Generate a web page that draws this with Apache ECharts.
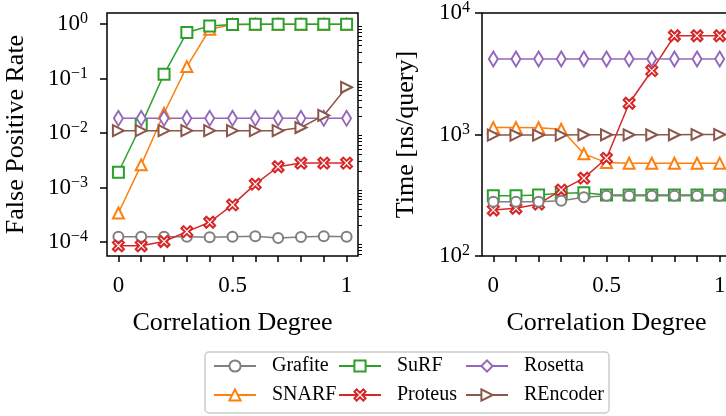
<!DOCTYPE html>
<html>
<head>
<meta charset="utf-8">
<script src="https://cdn.jsdelivr.net/npm/echarts@6/dist/echarts.min.js"></script>
<style>
html, body { margin: 0; padding: 0; background: #fff; }
#chart { width: 726px; height: 416px; }
</style>
</head>
<body>
<div id="chart"></div>
<script>
// correlation degree
const xs = [0, 0.1, 0.2, 0.3, 0.4, 0.5, 0.6, 0.7, 0.8, 0.9, 1.0]

// false positive rate (left)
const fprGrafite = [1.25e-4, 1.25e-4, 1.25e-4, 1.25e-4, 1.22e-4, 1.25e-4, 1.27e-4, 1.18e-4, 1.24e-4, 1.28e-4, 1.25e-4]
const fprSnarf = [3.4e-4, 2.6e-3, 0.023, 0.165, 0.8, 0.98, 0.99, 0.99, 0.99, 0.99, 0.99]
const fprSurf = [1.9e-3, 0.014, 0.12, 0.7, 0.92, 0.98, 0.99, 0.99, 0.99, 0.99, 0.99]
const fprProteus = [8.5e-5, 8.5e-5, 1.02e-4, 1.55e-4, 2.3e-4, 4.8e-4, 1.15e-3, 2.4e-3, 2.8e-3, 2.8e-3, 2.8e-3]
const fprRosetta = [0.0186, 0.0186, 0.0186, 0.0186, 0.0186, 0.0186, 0.0186, 0.0186, 0.0186, 0.0186, 0.0186]
const fprREncoder = [0.011, 0.011, 0.011, 0.011, 0.011, 0.011, 0.011, 0.011, 0.0126, 0.021, 0.069]

// time ns/query (right)
const timeGrafite = [280, 280, 280, 285, 304, 313, 313, 313, 313, 313, 313]
const timeSnarf = [1140, 1140, 1135, 1105, 693, 587, 580, 580, 580, 580, 580]
const timeSurf = [313, 313, 318, 328, 331, 318, 318, 318, 318, 318, 318]
const timeProteus = [239, 247, 268, 349, 437, 637, 1808, 3350, 6500, 6500, 6500]
const timeRosetta = [4180, 4180, 4180, 4180, 4180, 4180, 4180, 4180, 4180, 4180, 4180]
const timeREncoder = [990, 990, 990, 990, 995, 995, 995, 995, 995, 1000, 1000]

// ticks
const xTicks = [0, 0.1, 0.2, 0.3, 0.4, 0.5, 0.6, 0.7, 0.8, 0.9, 1.0]
const xLabels = [0, 0.5, 1]
const fprMajor = [1e-4, 1e-3, 1e-2, 1e-1, 1]
const timeMajor = [100, 1000, 10000]

// legend columns (matplotlib ncol=3 order)
const legendCols = [['Grafite', 'SNARF'], ['SuRF', 'Proteus'], ['Rosetta', 'REncoder']]

const FONT = 'Liberation Serif'
const fprMin = 5.53e-5, fprMax = 1.59

const minorTicks = (lo, hi) => {
    const out = []
    for (let d = Math.floor(Math.log10(lo)); d <= Math.ceil(Math.log10(hi)); d++) {
        for (let k = 2; k <= 9; k++) {
            const v = k * Math.pow(10, d)
            if (v >= lo && v <= hi) out.push(v)
        }
    }
    return out
}

const supLabel = (v) => {
    const e = Math.round(Math.log10(v))
    return '{b|10}{s|' + (e < 0 ? '\u2212' + (-e) : e) + '}'
}

const labelRich = {
    b: { fontFamily: FONT, fontSize: 23, lineHeight: 26, color: '#000' },
    s: { fontFamily: FONT, fontSize: 16, lineHeight: 16, verticalAlign: 'top', color: '#000' },
}

const xAxisCfg = (gi) => ({
    type: 'value',
    gridIndex: gi,
    min: -0.05,
    max: 1.05,
    axisLine: { show: false, onZero: false },
    splitLine: { show: false },
    axisTick: { customValues: xTicks, length: 6, lineStyle: { color: '#000', width: 1.5 } },
    axisLabel: {
        customValues: xLabels,
        margin: 18,
        fontFamily: FONT,
        fontSize: 23,
        color: '#000',
    },
    name: 'Correlation Degree',
    nameLocation: 'middle',
    nameGap: 54,
    nameTextStyle: { fontFamily: FONT, fontSize: 26, color: '#000' },
})

const yMajorCfg = (gi, min, max, ticks, name, margin, nameGap) => ({
    type: 'log',
    gridIndex: gi,
    min: min,
    max: max,
    axisLine: { show: false, onZero: false },
    splitLine: { show: false },
    axisTick: { customValues: ticks, length: 7, lineStyle: { color: '#000', width: 1.5 } },
    axisLabel: {
        customValues: ticks,
        margin: margin,
        formatter: supLabel,
        rich: labelRich,
    },
    name: name,
    nameLocation: 'middle',
    nameGap: nameGap,
    nameTextStyle: { fontFamily: FONT, fontSize: 26, color: '#000' },
})

const yMinorCfg = (gi, min, max) => ({
    type: 'log',
    gridIndex: gi,
    min: min,
    max: max,
    axisLine: { show: false, onZero: false },
    splitLine: { show: false },
    axisLabel: { show: false },
    axisTick: { customValues: minorTicks(min, max), length: 4, lineStyle: { color: '#000', width: 1 } },
})

const X_PATH = 'path://M2,0 L5,3 L8,0 L10,2 L7,5 L10,8 L8,10 L5,7 L2,10 L0,8 L3,5 L0,2 Z'

const styles = {
    Grafite: { color: '#7f7f7f', symbol: 'circle', size: 10, rotate: 0 },
    SNARF: { color: '#ff7f0e', symbol: 'triangle', size: 11, rotate: 0 },
    SuRF: { color: '#2ca02c', symbol: 'rect', size: 11, rotate: 0 },
    Proteus: { color: '#d62728', symbol: X_PATH, size: 11, rotate: 0 },
    Rosetta: { color: '#9467bd', symbol: 'diamond', size: [9, 15], rotate: 0 },
    REncoder: { color: '#8c564b', symbol: 'triangle', size: 11, rotate: -90 },
}

const mkSeries = (name, vals, gi, z) => {
    const s = styles[name]
    return {
        name: name,
        type: 'line',
        xAxisIndex: gi,
        yAxisIndex: gi * 2,
        z: z || 2,
        data: xs.map((x, i) => [x, vals[i]]),
        symbol: s.symbol,
        symbolSize: s.size,
        symbolRotate: s.rotate,
        showAllSymbol: true,
        lineStyle: { color: s.color, width: 1.5 },
        itemStyle: { color: '#fff', borderColor: s.color, borderWidth: 2 },
        emphasis: { disabled: true },
        animation: false,
    }
}

const legendLeft = [213, 338, 465]
const mkLegend = (names, i) => ({
    left: legendLeft[i],
    top: 356,
    orient: 'vertical',
    padding: 0,
    itemGap: 9,
    itemWidth: 42,
    itemHeight: 14,
    data: names,
    formatter: (n) => '{t|' + n + '}',
    textStyle: {
        fontFamily: FONT,
        fontSize: 20,
        color: '#000',
        rich: { t: { fontFamily: FONT, fontSize: 20, lineHeight: 20, color: '#000', padding: [0, 0, 0, 11] } },
    },
})

const chart = echarts.init(document.getElementById('chart'), null, { renderer: 'canvas' })
chart.setOption({
    backgroundColor: '#fff',
    animation: false,
    grid: [
        { left: 107, top: 13, width: 251, height: 243, outerBoundsMode: 'none', show: true, borderColor: '#000', borderWidth: 1.5, backgroundColor: 'transparent' },
        { left: 482, top: 13, width: 249, height: 243, outerBoundsMode: 'none', show: true, borderColor: '#000', borderWidth: 1.5, backgroundColor: 'transparent' },
    ],
    xAxis: [xAxisCfg(0), xAxisCfg(1)],
    yAxis: [
        yMajorCfg(0, fprMin, fprMax, fprMajor, 'False Positive Rate', 19, 78),
        yMinorCfg(0, fprMin, fprMax),
        yMajorCfg(1, 100, 10000, timeMajor, 'Time [ns/query]', 12, 63),
        yMinorCfg(1, 100, 10000),
    ],
    graphic: [{
        type: 'rect',
        shape: { x: 205, y: 352, width: 404, height: 61, r: 4 },
        style: { fill: '#fff', stroke: '#cccccc', lineWidth: 1.5 },
        z: 0,
    }],
    legend: legendCols.map(mkLegend),
    series: [
        mkSeries('Grafite', fprGrafite, 0),
        mkSeries('SNARF', fprSnarf, 0),
        mkSeries('SuRF', fprSurf, 0),
        mkSeries('Proteus', fprProteus, 0),
        mkSeries('Rosetta', fprRosetta, 0),
        mkSeries('REncoder', fprREncoder, 0),
        mkSeries('Grafite', timeGrafite, 1, 3),
        mkSeries('SNARF', timeSnarf, 1),
        mkSeries('SuRF', timeSurf, 1),
        mkSeries('Proteus', timeProteus, 1),
        mkSeries('Rosetta', timeRosetta, 1),
        mkSeries('REncoder', timeREncoder, 1),
    ],
})
</script>
</body>
</html>
